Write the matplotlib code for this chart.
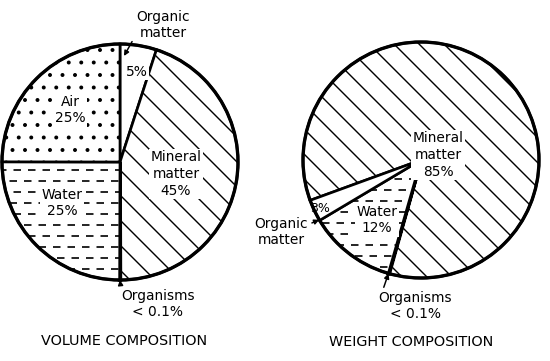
import matplotlib
matplotlib.use('Agg')
import matplotlib.pyplot as plt
import numpy as np

# ---- data ----
vol_labels = ['Organic matter', 'Mineral matter', 'Organisms', 'Water', 'Air']
vol_values = [5, 45, 0.1, 25, 25]
vol_text = ['5%', 'Mineral\nmatter\n45%', '< 0.1%', 'Water\n25%', 'Air\n25%']
wt_labels = ['Mineral matter', 'Organisms', 'Water', 'Organic matter']
wt_values = [85, 0.1, 12, 3]
wt_text = ['Mineral\nmatter\n85%', '< 0.1%', 'Water\n12%', '3%']
titles = ['VOLUME COMPOSITION', 'WEIGHT COMPOSITION']

DPI = 150
W, H = 550, 361
R = 118.0
K = 120.0 / DPI  # point scale factor
plt.rcParams['font.family'] = ['DejaVu Sans']
plt.rcParams['font.size'] = 8.3 * K
plt.rcParams['hatch.linewidth'] = 0.85 * K

fig = plt.figure(figsize=(W / DPI, H / DPI), dpi=DPI, facecolor='white')


def make_axes(cx, cy, x0, w):
    ax = fig.add_axes([x0 / W, 0, w / W, 1])
    return ax, (lambda x, y: ((x - cx) / R, (cy - y) / R)), (x0, w, cx, cy)


def finish(ax, geo):
    x0, w, cx, cy = geo
    ax.set_xlim((x0 - cx) / R, (x0 + w - cx) / R)
    ax.set_ylim((cy - H) / R, cy / R)
    ax.set_aspect('auto')
    ax.axis('off')


def dashes_in(ax, wedge, step=0.093):
    for i, y in enumerate(np.arange(-1.0, 1.0, step)):
        ln, = ax.plot([-1.05, 1.05], [y, y], color='black', lw=1.0 * K,
                      linestyle=(2.4 * (i % 2), (4.5, 4.2)), solid_capstyle='butt')
        ln.set_clip_path(wedge)


box = dict(fc='white', ec='none', pad=0.6)
edge = dict(edgecolor='black', linewidth=1.6 * K, facecolor='white')
arrow_kw = dict(arrowstyle='-|>', lw=0.9 * K, color='black', mutation_scale=6 * K,
                shrinkA=0, shrinkB=0)

# ---- left pie: volume ----
axL, PL, gL = make_axes(120, 162, 0, 275)
wL, _ = axL.pie(vol_values, startangle=90, counterclock=False, radius=1.0,
                hatch=['', '\\\\', '', '', '..'], wedgeprops=edge)
wL[2].set_linewidth(2.2 * K)
dashes_in(axL, wL[3])
axL.add_patch(plt.Circle((0, 0), 1.0, fill=False, lw=2.0 * K, ec='black', zorder=5))

axL.text(*PL(137, 72), vol_text[0], ha='center', va='center', bbox=box)
axL.text(*PL(176, 174), vol_text[1], ha='center', va='center', linespacing=1.25, bbox=box)
axL.text(*PL(62, 203), vol_text[3], ha='center', va='center', linespacing=1.25, bbox=box)
axL.text(*PL(70, 110), vol_text[4], ha='center', va='center', linespacing=1.25, bbox=box)
axL.annotate('Organic\nmatter', xy=PL(124, 56), xytext=PL(163, 25), ha='center', va='center',
             linespacing=1.1, arrowprops=dict(arrow_kw, relpos=(0.05, 0.35)))
aL = np.deg2rad(90 - 3.6 * sum(vol_values[:2]))
axL.annotate('Organisms\n' + vol_text[2], xy=(np.cos(aL), np.sin(aL)), xytext=PL(158, 304),
             ha='center', va='center', linespacing=1.1,
             arrowprops=dict(arrow_kw, relpos=(0.0, 0.95)))
axL.text(*PL(124, 341), titles[0], ha='center', va='center', fontsize=8.6 * K)
finish(axL, gL)

# ---- right pie: weight ----
axR, PR, gR = make_axes(421, 160, 275, 275)
wR, _ = axR.pie(wt_values, startangle=200, counterclock=False, radius=1.0,
                hatch=['\\\\', '', '', ''], wedgeprops=edge)
wR[1].set_linewidth(2.4 * K)
dashes_in(axR, wR[2])
axR.add_patch(plt.Circle((0, 0), 1.0, fill=False, lw=2.0 * K, ec='black', zorder=5))

axR.text(*PR(438, 155), wt_text[0], ha='center', va='center', linespacing=1.25, bbox=box)
axR.text(*PR(377, 220), wt_text[2], ha='center', va='center', linespacing=1.25, bbox=box)
axR.text(*PR(320, 208), wt_text[3], ha='center', va='center', fontsize=7.5 * K)
aO = np.deg2rad(200 - 3.6 * sum(wt_values[:3]))
axR.annotate('Organic\nmatter', xy=(np.cos(aO), np.sin(aO)), xytext=PR(281, 232),
             ha='center', va='center', linespacing=1.1,
             arrowprops=dict(arrow_kw, relpos=(1.0, 0.75)))
aR = np.deg2rad(200 - 3.6 * sum(wt_values[:1]))
axR.annotate('Organisms\n' + wt_text[1], xy=(np.cos(aR), np.sin(aR)), xytext=PR(415, 306),
             ha='center', va='center', linespacing=1.1,
             arrowprops=dict(arrow_kw, relpos=(0.05, 0.95)))
axR.text(*PR(411, 342), titles[1], ha='center', va='center', fontsize=8.6 * K)
finish(axR, gR)

fig.savefig('out.png', dpi=DPI, facecolor='white')
